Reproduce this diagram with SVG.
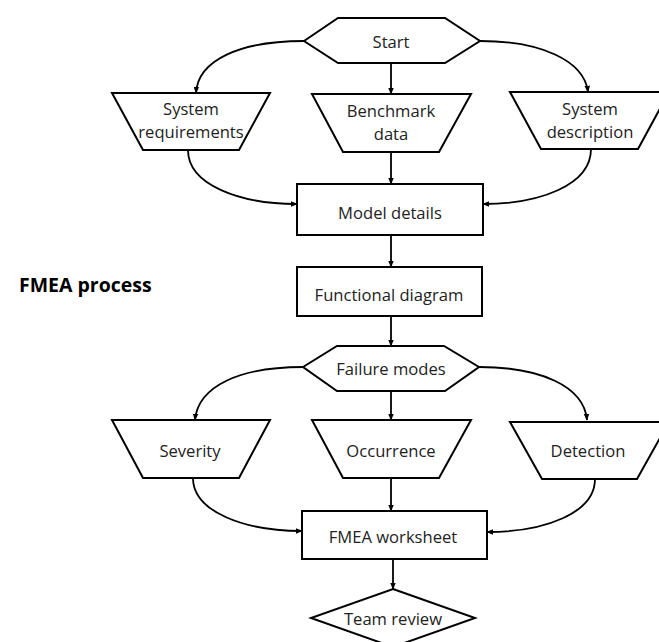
<svg xmlns="http://www.w3.org/2000/svg" width="659" height="642" viewBox="0 0 659 642">
<defs>
<marker id="ah" viewBox="0 0 10 10" refX="9" refY="5" markerWidth="7" markerHeight="7" orient="auto" markerUnits="userSpaceOnUse">
<path d="M0,1 L10,5 L0,9 z" fill="#000"/>
</marker>
<style>
.s{fill:#fff;stroke:#000;stroke-width:2}
.t{font-family:"Open Sans","Liberation Sans",Arial,sans-serif;font-size:16.6px;fill:#222;text-anchor:middle;dominant-baseline:central}
.c{fill:none;stroke:#000;stroke-width:1.8;marker-end:url(#ah)}
</style>
</defs>
<rect width="659" height="642" fill="#fff"/>
<text x="19" y="284" style="font-family:'Open Sans','Liberation Sans',Arial,sans-serif;font-size:19.5px;font-weight:bold;fill:#000;dominant-baseline:central">FMEA process</text>
<g id="connectors">
<path class="c" d="M391,63 L391,94"/>
<path class="c" d="M304,41 C240,41 198,60 196,93"/>
<path class="c" d="M480,41 C540,41 584,60 588,92"/>
<path class="c" d="M391,152 L391,184"/>
<path class="c" d="M188,150 C188,185 240,204 297,204"/>
<path class="c" d="M591,149 C591,185 540,204 483,204"/>
<path class="c" d="M391,235 L391,267"/>
<path class="c" d="M391,316 L391,346"/>
<path class="c" d="M303,367 C240,367 198,386 195,420"/>
<path class="c" d="M479,367 C540,367 584,386 587,420"/>
<path class="c" d="M391,391 L391,420"/>
<path class="c" d="M391,478 L391,511"/>
<path class="c" d="M193,478 C193,512 245,531 302,531"/>
<path class="c" d="M595,479 C595,513 545,532 487,532"/>
<path class="c" d="M393,559 L393,589"/>
</g>
<g id="start">
<polygon class="s" points="304,41 338,18 445,18 480,41 445,63 338,63"/>
<text class="t" x="391" y="41">Start</text>
</g>
<g id="sysreq">
<polygon class="s" points="112,93 270,93 239,150 143,150"/>
<text class="t" x="191" y="108">System</text>
<text class="t" x="191" y="131">requirements</text>
</g>
<g id="benchmark">
<polygon class="s" points="312,94 471,94 439,152 343,152"/>
<text class="t" x="391" y="110">Benchmark</text>
<text class="t" x="391" y="133">data</text>
</g>
<g id="sysdesc">
<polygon class="s" points="510,92 669,92 638,149 541,149"/>
<text class="t" x="590" y="108">System</text>
<text class="t" x="590" y="131">description</text>
</g>
<g id="model">
<rect class="s" x="297" y="184" width="186" height="51"/>
<text class="t" x="390" y="212">Model details</text>
</g>
<g id="functional">
<rect class="s" x="297" y="267" width="185" height="49"/>
<text class="t" x="389" y="294">Functional diagram</text>
</g>
<g id="failure">
<polygon class="s" points="303,367 337,346 444,346 479,367 445,391 337,391"/>
<text class="t" x="391" y="368">Failure modes</text>
</g>
<g id="severity">
<polygon class="s" points="112,420 270,420 239,478 143,478"/>
<text class="t" x="190" y="450">Severity</text>
</g>
<g id="occurrence">
<polygon class="s" points="312,420 471,420 439,478 343,478"/>
<text class="t" x="391" y="450">Occurrence</text>
</g>
<g id="detection">
<polygon class="s" points="510,422 669,422 637,479 542,479"/>
<text class="t" x="588" y="450">Detection</text>
</g>
<g id="worksheet">
<rect class="s" x="302" y="511" width="185" height="48"/>
<text class="t" x="393" y="536">FMEA worksheet</text>
</g>
<g id="review">
<polygon class="s" points="393,589 475,618 393,647 311,618"/>
<text class="t" x="393" y="618">Team review</text>
</g>
</svg>
